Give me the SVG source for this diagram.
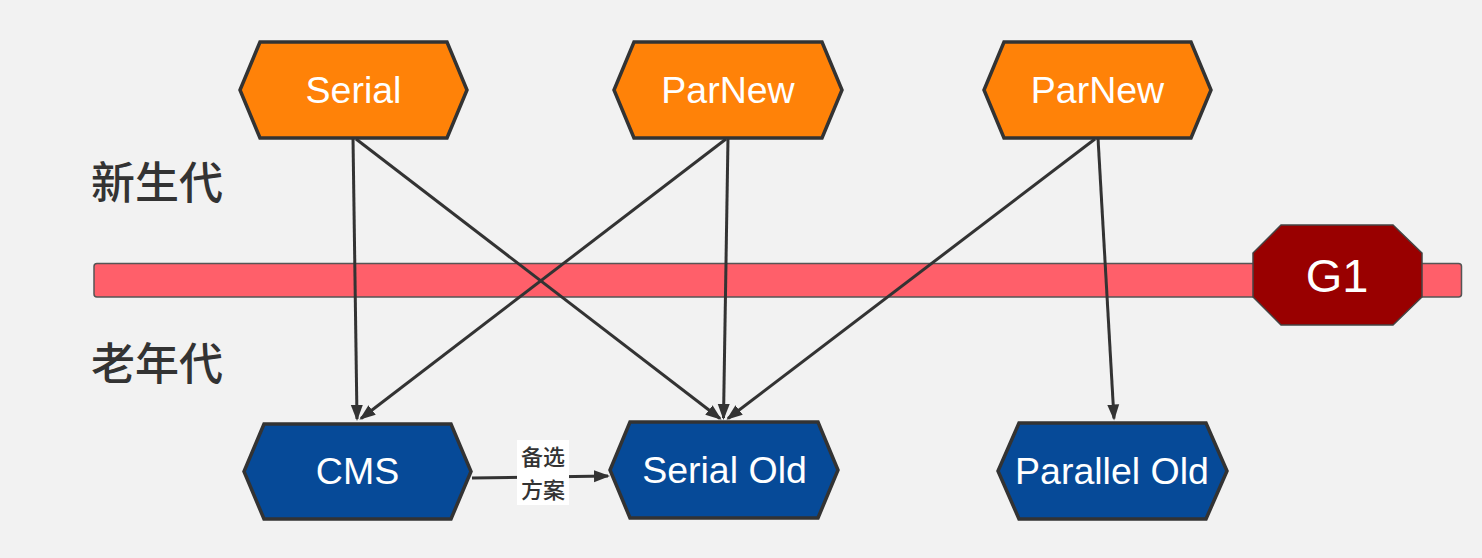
<svg xmlns="http://www.w3.org/2000/svg" width="1482" height="558" viewBox="0 0 1482 558">
  <defs>
    <marker id="arr" markerUnits="userSpaceOnUse" markerWidth="17" markerHeight="13" refX="14" refY="6.5" orient="auto">
      <path d="M0,0.5 L16,6.5 L0,12.5 Z" fill="#333"/>
    </marker>
    <style>
      .young { fill: #ff8208; stroke: #333; stroke-width: 3.5; }
      .old { fill: #064a98; stroke: #333; stroke-width: 3.5; }
      .lbl { font-family: "Liberation Sans", Arial, sans-serif; font-size: 37.5px; fill: #ffffff; text-anchor: middle; }
      .gen { font-family: "Noto Sans CJK SC", sans-serif; font-size: 44px; font-weight: 500; fill: #333; dominant-baseline: central; }
      .edge { fill: none; stroke: #333; stroke-width: 3; marker-end: url(#arr); }
      .elbl { font-family: "Noto Sans CJK SC", sans-serif; font-size: 22px; font-weight: 500; fill: #333; text-anchor: middle; }
    </style>
  </defs>
  <rect width="1482" height="558" fill="#f2f2f2"/>

  <g id="divider">
    <rect x="94" y="263.5" width="1367.5" height="33.5" rx="3" fill="#ff5f6a" stroke="#555" stroke-width="1.5"/>
  </g>

  <g id="label-young">
    <text class="gen" x="91" y="180">新生代</text>
  </g>
  <g id="label-old">
    <text class="gen" x="91" y="361">老年代</text>
  </g>

  <g id="connectors">
    <path class="edge" d="M353,138 L357,419"/>
    <path class="edge" d="M356,139 L720,418.5"/>
    <path class="edge" d="M726,139 L361,418.5"/>
    <path class="edge" d="M728,138 L723.5,418"/>
    <path class="edge" d="M1095,139 L728,418.5"/>
    <path class="edge" d="M1098,138 L1114,418.5"/>
    <path class="edge" d="M472,478 L608,476"/>
    <rect x="517" y="440" width="52" height="65" fill="#ffffff"/>
    <text class="elbl" x="543" y="465">备选</text>
    <text class="elbl" x="543" y="498">方案</text>
  </g>

  <g id="serial">
    <polygon class="young" points="260,42 447,42 467,90 447,138 260,138 240,90"/>
    <text class="lbl" x="353.5" y="103">Serial</text>
  </g>
  <g id="parnew1">
    <polygon class="young" points="634,42 822,42 842,90 822,138 634,138 614,90"/>
    <text class="lbl" x="728" y="103">ParNew</text>
  </g>
  <g id="parnew2">
    <polygon class="young" points="1004,42 1191,42 1211,90 1191,138 1004,138 984,90"/>
    <text class="lbl" x="1097.5" y="103">ParNew</text>
  </g>

  <g id="g1">
    <polygon points="1281,225 1393,225 1422,253 1422,297 1393,325 1281,325 1253,297 1253,253" fill="#990000" stroke="#444" stroke-width="1.5"/>
    <text class="lbl" x="1337" y="292" style="font-size:47px">G1</text>
  </g>

  <g id="cms">
    <polygon class="old" points="264,424 451,424 471,471.5 451,519 264,519 244,471.5"/>
    <text class="lbl" x="357.5" y="484">CMS</text>
  </g>
  <g id="serial-old">
    <polygon class="old" points="630,422 818,422 838,470 818,518 630,518 610,470"/>
    <text class="lbl" x="724.5" y="483">Serial Old</text>
  </g>
  <g id="parallel-old">
    <polygon class="old" points="1019,423 1206,423 1227,471 1206,519 1019,519 998,471"/>
    <text class="lbl" x="1112" y="484">Parallel Old</text>
  </g>
</svg>
